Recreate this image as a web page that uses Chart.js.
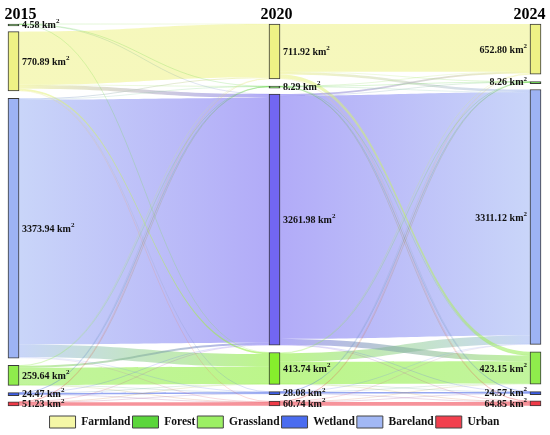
<!DOCTYPE html>
<html>
<head>
<meta charset="utf-8">
<script src="https://cdn.jsdelivr.net/npm/chart.js@4.4.0/dist/chart.umd.min.js"></script>
<style>
html, body { margin: 0; padding: 0; background: #fff; }
#wrap { width: 550px; height: 435px; }
</style>
</head>
<body>
<div id="wrap"><canvas id="sankey"></canvas></div>
<script>
// Land types (legend order) and the area of each, km2
var years = ['2015', '2020', '2024'];
var landTypes = ['Farmland', 'Forest', 'Grassland', 'Wetland', 'Bareland', 'Urban'];
var area2015 = [770.89, 4.58, 259.64, 24.47, 3373.94, 51.23];
var area2020 = [711.92, 8.29, 413.74, 28.08, 3261.98, 60.74];
var area2024 = [652.80, 8.26, 423.15, 24.57, 3311.12, 64.85];

// top-to-bottom order of the nodes in each column
var order2015 = ['Forest', 'Farmland', 'Bareland', 'Grassland', 'Wetland', 'Urban'];
var order2020 = ['Farmland', 'Forest', 'Bareland', 'Grassland', 'Wetland', 'Urban'];
var order2024 = ['Farmland', 'Forest', 'Bareland', 'Grassland', 'Wetland', 'Urban'];

// transfers (rows = from, cols = to, legend order), estimated
var flows1520 = [
	[690, 3, 20, 1.89, 50, 6],
	[1.0, 2.5, 0.58, 0, 0.5, 0],
	[5, 1, 225, 1.5, 25, 2.14],
	[0.5, 0.1, 1.5, 19, 3, 0.37],
	[15, 1.5, 165, 5, 3180, 7.44],
	[0.42, 0.19, 1.66, 0.69, 3.48, 44.79],
];
var flows2024 = [
	[620, 2, 48, 1.5, 35, 5.42],
	[1.5, 5, 0.6, 0.1, 1, 0.09],
	[10, 0.36, 290, 1, 110, 2.38],
	[0.5, 0.05, 1.5, 18.9, 3, 4.13],
	[20, 0.8, 74.18, 3, 3160, 4],
	[0.8, 0.05, 8.87, 0.07, 2.12, 48.83],
];

var areas = [area2015, area2020, area2024];
var orders = [order2015, order2020, order2024];
var flowSets = [flows1520, flows2024];
var gap = 95;

// styles
var nodeColors = [
	['#eef285', '#eef285', '#eef285'],
	['#4fcf2f', '#4fcf2f', '#4fcf2f'],
	['#8fec4c', '#86ee2c', '#8fec4c'],
	['#3f5fe6', '#3f5fe6', '#3f5fe6'],
	['#9db3f4', '#7266f2', '#9db3f4'],
	['#ef3a48', '#ef3a48', '#ef3a48'],
];
var legendColors = ['#f5f7a6', '#5bd63b', '#9cf064', '#4a6cf0', '#a2b8f5', '#f2404e'];
var minLen = [0, 2, 0, 3, 0, 0];
var nodeWidth = 11;
var serif = "'Liberation Serif', 'Times New Roman', serif";

function rgba(hex, a) {
	var n = parseInt(hex.slice(1), 16);
	return 'rgba(' + (n >> 16) + ',' + ((n >> 8) & 255) + ',' + (n & 255) + ',' + a + ')';
}

// stack the nodes of every column, with a gap between them
var yMax = 0;
var ranges = areas.map(function (area, c) {
	var cum = 0;
	var r = [];
	orders[c].forEach(function (name) {
		var i = landTypes.indexOf(name);
		r[i] = [cum, cum + area[i]];
		cum += area[i] + gap;
	});
	yMax = Math.max(yMax, cum - gap);
	return r;
});

var datasets = landTypes.map(function (name, i) {
	return {
		label: name,
		data: ranges.map(function (r) { return r[i]; }),
		backgroundColor: nodeColors[i],
		borderColor: '#3a3a3a',
		borderWidth: 1,
		borderSkipped: false,
		barThickness: nodeWidth,
		minBarLength: minLen[i],
		grouped: false,
		clip: false,
	};
});

// links between neighbouring columns, drawn behind the nodes
var flowPlugin = {
	id: 'flows',
	beforeDatasetsDraw: function (chart) {
		var ctx = chart.ctx;
		var xs = chart.scales.x;
		var ys = chart.scales.y;
		var links = [];
		flowSets.forEach(function (m, t) {
			var srcIdx = orders[t].map(function (n) { return landTypes.indexOf(n); });
			var tgtIdx = orders[t + 1].map(function (n) { return landTypes.indexOf(n); });
			var srcOff = [], tgtOff = [], byKey = {};
			for (var i = 0; i < landTypes.length; i++) {
				srcOff[i] = ranges[t][i][0];
				tgtOff[i] = ranges[t + 1][i][0];
			}
			srcIdx.forEach(function (s) {
				tgtIdx.forEach(function (d) {
					var v = m[s][d];
					if (!v) return;
					var l = { t: t, s: s, d: d, v: v, y0: srcOff[s] };
					srcOff[s] += v;
					byKey[s + '_' + d] = l;
					links.push(l);
				});
			});
			tgtIdx.forEach(function (d) {
				srcIdx.forEach(function (s) {
					var l = byKey[s + '_' + d];
					if (!l) return;
					l.y1 = tgtOff[d];
					tgtOff[d] += l.v;
				});
			});
		});
		links.sort(function (a, b) { return b.v - a.v; });

		ctx.save();
		links.forEach(function (l) {
			var x0 = xs.getPixelForValue(l.t) + nodeWidth / 2;
			var x1 = xs.getPixelForValue(l.t + 1) - nodeWidth / 2;
			var xm = (x0 + x1) / 2;
			var a0 = ys.getPixelForValue(l.y0);
			var a1 = ys.getPixelForValue(l.y0 + l.v);
			var b0 = ys.getPixelForValue(l.y1);
			var b1 = ys.getPixelForValue(l.y1 + l.v);
			var thin = a1 - a0 < 1;
			var alpha = thin ? 0.35 : 0.55;
			var grad = ctx.createLinearGradient(x0, 0, x1, 0);
			grad.addColorStop(0, rgba(nodeColors[l.s][l.t], alpha));
			grad.addColorStop(1, rgba(nodeColors[l.d][l.t + 1], alpha));
			ctx.beginPath();
			if (!thin) {
				ctx.moveTo(x0, a0);
				ctx.bezierCurveTo(xm, a0, xm, b0, x1, b0);
				ctx.lineTo(x1, b1);
				ctx.bezierCurveTo(xm, b1, xm, a1, x0, a1);
				ctx.closePath();
				ctx.fillStyle = grad;
				ctx.fill();
			} else {
				var am = (a0 + a1) / 2, bm = (b0 + b1) / 2;
				ctx.moveTo(x0, am);
				ctx.bezierCurveTo(xm, am, xm, bm, x1, bm);
				ctx.strokeStyle = grad;
				ctx.lineWidth = 0.6;
				ctx.stroke();
			}
		});
		ctx.restore();
	},
	afterDatasetsDraw: function (chart) {
		var ctx = chart.ctx;
		var xs = chart.scales.x;
		var ys = chart.scales.y;
		ctx.save();
		ctx.fillStyle = '#111';
		ctx.textBaseline = 'middle';
		areas.forEach(function (area, c) {
			var px = xs.getPixelForValue(c);
			area.forEach(function (v, i) {
				var r = ranges[c][i];
				var yc = ys.getPixelForValue((r[0] + r[1]) / 2);
				var main = v.toFixed(2) + ' km';
				ctx.font = 'bold 10px ' + serif;
				var w1 = ctx.measureText(main).width;
				ctx.font = 'bold 7px ' + serif;
				var w2 = ctx.measureText('2').width;
				var sx = c < 2 ? px + nodeWidth / 2 + 3 : px - nodeWidth / 2 - 3 - w1 - w2;
				ctx.textAlign = 'left';
				ctx.font = 'bold 10px ' + serif;
				ctx.fillText(main, sx, yc + 1);
				ctx.font = 'bold 7px ' + serif;
				ctx.fillText('2', sx + w1, yc - 3);
			});
		});
		// column headings
		ctx.font = 'bold 16px ' + serif;
		ctx.fillStyle = '#000';
		ctx.textBaseline = 'alphabetic';
		var area = chart.chartArea;
		ctx.textAlign = 'left';
		ctx.fillText(years[0], area.left - 9, 19);
		ctx.textAlign = 'center';
		ctx.fillText(years[1], xs.getPixelForValue(1) + 2, 19);
		ctx.textAlign = 'right';
		ctx.fillText(years[2], area.right + 10, 19);
		ctx.restore();
	},
};

var ctx = document.getElementById('sankey').getContext('2d');
var chart = new Chart(ctx, {
	type: 'bar',
	data: {
		labels: years,
		datasets: datasets,
	},
	options: {
		responsive: true,
		maintainAspectRatio: false,
		animation: false,
		layout: { padding: { left: 13.5, right: 14.5, top: 24, bottom: -3 } },
		scales: {
			x: { type: 'category', offset: false, display: false },
			y: { type: 'linear', min: 0, max: yMax, reverse: true, display: false },
		},
		plugins: {
			tooltip: { enabled: false },
			legend: {
				position: 'bottom',
				title: { display: true, text: '', font: { size: 1 }, padding: { top: 0, bottom: 7 } },
				labels: {
					boxWidth: 26,
					boxHeight: 12,
					padding: 2,
					color: '#111',
					font: { family: serif, size: 11.5, weight: 'bold' },
					generateLabels: function (chart) {
						return landTypes.map(function (name, i) {
							return {
								text: name,
								fillStyle: legendColors[i],
								strokeStyle: '#444',
								fontColor: '#111',
								lineWidth: 1,
								hidden: false,
								datasetIndex: i,
							};
						});
					},
				},
			},
		},
	},
	plugins: [flowPlugin],
});
</script>
</body>
</html>
